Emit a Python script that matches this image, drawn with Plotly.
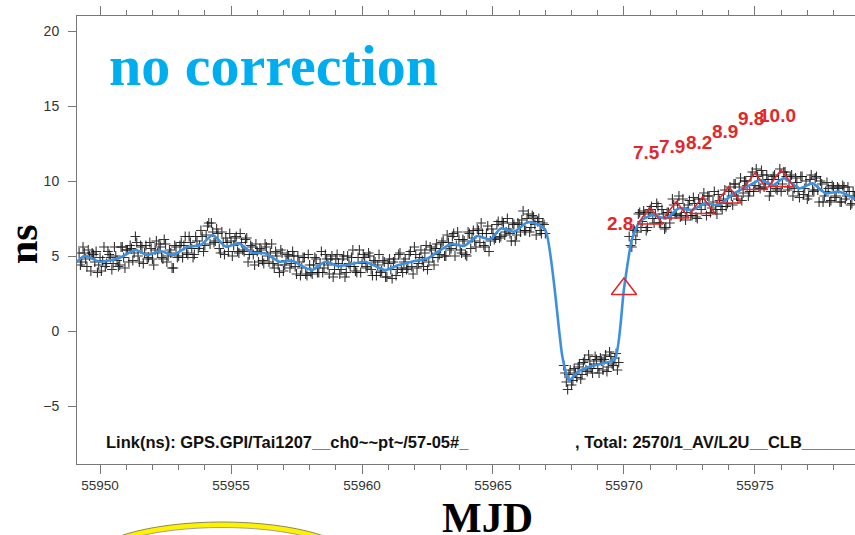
import plotly.graph_objects as go

# ---------------- data ----------------
# smoothed link (blue line): MJD, ns
LINE_T = [55949.12, 55949.4, 55950.0, 55950.7, 55951.35, 55951.8, 55952.3, 55952.8, 55953.3, 55953.85,
          55954.3, 55954.8, 55955.3, 55955.8, 55956.3, 55956.85, 55957.35, 55957.85, 55958.1, 55958.6,
          55959.1, 55959.6, 55960.1, 55960.9, 55961.4, 55961.9, 55962.5, 55962.9, 55963.4, 55963.9,
          55964.4, 55964.9, 55965.3, 55965.8, 55966.3, 55966.6, 55967.0, 55967.65, 55967.9, 55968.25,
          55968.75, 55969.2, 55969.65, 55970.0, 55970.3, 55970.6, 55971.1, 55971.6, 55972.1, 55972.6,
          55973.1, 55973.6, 55974.2, 55974.7, 55975.2, 55975.7, 55976.1, 55976.7, 55977.2, 55977.7,
          55978.2, 55978.82]
LINE_V = [4.62, 5.0, 4.62, 4.84, 5.4, 5.07, 5.33, 5.07, 5.58, 5.73,
          6.4, 5.62, 5.84, 5.22, 5.18, 4.62, 4.67, 4.2, 4.07, 4.62,
          4.33, 4.47, 4.62, 4.07, 4.4, 4.62, 4.84, 5.29, 5.8, 5.67,
          6.33, 6.11, 6.84, 6.62, 7.24, 7.18, 6.73, -1.71, -3.3, -2.7,
          -2.35, -2.15, -1.9, 2.8, 6.07, 7.29, 7.73, 7.51, 8.18, 8.07,
          8.51, 8.4, 9.18, 9.62, 10.07, 9.73, 10.18, 9.51, 9.84, 9.18,
          9.29, 8.8]

# raw measurements (+ markers), sampled every 0.1 day; two interleaved passes per segment
STEP = 0.1
SEG1_START = 55949.2
SEG1_Y = [5.2, 4.6, 5.2, 4.3, 5.0, 5.2, 4.6, 3.9, 4.9, 4.7,
          4.3, 5.3, 4.9, 4.5, 5.0, 4.3, 5.6, 4.9, 5.4, 4.6,
          5.5, 5.2, 5.9, 4.6, 5.6, 5.2, 4.8, 5.9, 4.8, 5.4,
          5.2, 5.6, 4.8, 5.8, 5.0, 5.2, 4.2, 5.6, 5.0, 5.9,
          5.7, 5.2, 6.3, 5.5, 5.1, 6.0, 5.7, 6.3, 5.7, 7.0,
          5.8, 6.6, 6.0, 6.5, 5.2, 5.9, 6.2, 5.3, 6.0, 5.7,
          6.3, 5.2, 5.9, 5.3, 6.2, 5.1, 5.6, 4.4, 5.3, 5.5,
          4.7, 5.8, 5.0, 5.2, 4.5, 5.3, 4.4, 5.4, 4.0, 4.7,
          5.0, 4.5, 5.0, 3.8, 4.6, 4.2, 4.9, 3.7, 4.4, 3.8,
          4.9, 3.9, 4.5, 3.9, 5.1, 4.4, 4.8, 3.6, 4.8, 4.5,
          4.1, 5.0, 3.9, 4.5, 4.9, 4.3, 3.9, 5.4, 4.5, 4.9,
          4.2, 5.0, 3.7, 4.6, 4.4, 3.9, 4.7, 3.6, 4.5, 4.1,
          4.6, 3.7, 5.1, 4.2, 4.6, 4.1, 5.1, 4.3, 5.6, 4.2,
          4.9, 4.7, 5.2, 4.1, 5.6, 4.9, 5.5, 4.9, 5.5, 6.0,
          5.0, 5.9, 5.5, 6.5, 5.7, 6.1, 5.2, 6.0, 5.0, 6.5,
          6.2, 6.0, 6.8, 5.9, 6.5, 5.6, 7.0, 6.0, 6.5, 6.2,
          7.3, 6.3, 7.2, 6.6, 6.8, 6.0, 7.1, 6.4, 7.1, 7.4,
          6.7, 7.5, 6.6, 7.7, 7.1, 7.3, 6.7, 7.2, 6.5]
SEG1B_START = 55949.25
SEG1B_Y = [4.4, 5.6, 4.8, 5.4, 4.0, 5.1, 5.3, 4.4, 4.0, 5.6,
           4.5, 5.1, 4.1, 5.6, 4.7, 4.4, 5.6, 4.2, 5.4, 5.7,
           4.7, 6.3, 5.0, 5.7, 4.5, 5.7, 4.9, 5.5, 4.4, 6.0,
           5.8, 4.9, 6.1, 4.6, 5.4, 4.2, 5.7, 4.9, 5.7, 4.9,
           6.3, 5.1, 5.9, 4.9, 6.3, 5.5, 6.7, 5.3, 6.4, 7.2,
           7.2, 5.9, 6.8, 5.5, 6.6, 5.1, 5.9, 6.5, 5.0, 6.2,
           5.3, 6.5, 5.4, 6.1, 4.6, 5.7, 5.1, 5.8, 4.6, 5.4,
           4.5, 5.6, 4.6, 5.8, 4.2, 5.0, 3.9, 5.2, 4.4, 5.1,
           4.2, 5.3, 4.3, 5.0, 3.7, 4.9, 3.8, 5.1, 3.9, 4.4,
           4.8, 3.9, 5.3, 4.2, 4.8, 3.8, 5.0, 4.1, 5.1, 3.8,
           4.8, 3.6, 5.0, 4.3, 5.4, 4.0, 4.9, 3.9, 5.1, 4.3,
           5.2, 4.1, 4.7, 3.7, 5.1, 4.0, 4.6, 3.6, 4.8, 3.5,
           4.8, 4.1, 5.2, 3.9, 4.8, 4.2, 5.3, 3.8, 5.1, 4.5,
           5.4, 4.3, 5.7, 4.6, 5.4, 4.4, 5.8, 5.1, 5.9, 5.0,
           6.4, 5.4, 6.3, 5.0, 6.6, 5.4, 6.1, 5.1, 6.6, 5.5,
           6.7, 5.6, 6.7, 7.2, 5.7, 6.5, 5.3, 6.8, 6.1, 7.1,
           6.2, 7.3, 6.4, 7.5, 6.5, 7.2, 6.0, 7.2, 6.6, 8.0,
           6.7, 7.8, 6.9, 7.6, 6.4, 7.5, 6.5, 7.1]
SEG2_START = 55967.7
SEG2_Y = [-2.3, -3.4, -2.9, -3.6, -2.5, -3.1, -2.2, -2.9, -1.9, -2.7,
          -2.0, -2.8, -1.7, -2.5, -1.8, -2.6, -1.6, -2.4, -1.7, -2.3,
          -1.5, -2.1]
SEG2B_START = 55967.75
SEG2B_Y = [-2.8, -3.9, -2.6, -3.3, -2.8, -2.4, -3.2, -2.1, -2.6, -1.6,
           -2.5, -2.2, -1.9, -2.8, -2.0, -1.9, -2.7, -1.4, -2.2, -1.8,
           -2.6]
SEG3_START = 55970.2
SEG3_Y = [6.3, 5.6, 6.7, 6.6, 7.9, 7.3, 7.8, 6.9, 8.1, 7.5,
          7.8, 8.3, 7.2, 7.8, 6.9, 7.9, 7.7, 8.4, 7.8, 9.0,
          7.7, 8.2, 7.9, 8.7, 7.7, 8.5, 7.5, 8.5, 8.8, 8.4,
          9.0, 7.9, 8.6, 8.1, 9.1, 8.3, 8.8, 8.3, 9.3, 9.0,
          9.8, 9.0, 9.6, 8.7, 10.0, 9.7, 9.3, 10.6, 9.7, 10.3,
          9.5, 10.4, 9.8, 10.1, 9.3, 10.3, 9.5, 10.1, 9.3, 10.6,
          10.3, 9.6, 10.4, 9.5, 9.9, 8.9, 10.3, 9.5, 8.8, 10.1,
          9.4, 10.2, 9.4, 10.0, 8.6, 9.3, 9.5, 8.7, 9.6, 9.0,
          9.5, 8.6, 9.6, 9.0, 9.3, 8.5, 9.0]
SEG3B_START = 55970.25
SEG3B_Y = [5.7, 6.8, 6.1, 7.8, 6.9, 8.0, 6.7, 7.9, 8.3, 7.2,
           8.5, 7.2, 8.1, 6.8, 7.9, 7.2, 8.8, 7.8, 8.5, 7.6,
           8.8, 7.4, 8.4, 7.7, 8.9, 7.6, 8.8, 8.1, 9.2, 7.7,
           9.0, 8.2, 9.3, 7.8, 8.7, 8.1, 9.4, 8.5, 9.6, 8.4,
           9.8, 8.8, 10.2, 9.2, 10.0, 9.0, 10.3, 9.3, 10.8, 9.6,
           10.7, 9.6, 10.4, 9.0, 10.1, 10.4, 9.4, 10.8, 9.8, 10.6,
           9.4, 10.3, 9.0, 10.2, 9.3, 10.3, 9.1, 10.0, 9.0, 10.4,
           9.3, 10.3, 8.6, 9.8, 9.0, 9.9, 8.6, 9.7, 8.9, 9.6,
           8.6, 9.7, 8.8, 9.6, 8.4, 9.3]

# labelled daily points (red triangles)
TRI_T = [55970, 55971, 55972, 55973, 55974, 55975, 55976]
TRI_V = [2.8, 7.5, 7.9, 8.2, 8.9, 9.8, 10.0]
TRI_LABELS = ["2.8", "7.5", "7.9", "8.2", "8.9", "9.8", "10.0"]

Y_TICKS = [-5, 0, 5, 10, 15, 20]
X_TICKS = [55950, 55955, 55960, 55965, 55970, 55975]

TITLE_TEXT = "no correction"
Y_TITLE = "ns"
X_TITLE = "MJD"
LINK_TEXT = "Link(ns): GPS.GPI/Tai1207__ch0~~pt~/57-05#_"
TOTAL_TEXT = ", Total: 2570/1_AV/L2U__CLB_______"

# ---------------- build ----------------
sx, sy = [], []
for start, ys in [(SEG1_START, SEG1_Y), (SEG1B_START, SEG1B_Y), (SEG2_START, SEG2_Y),
                  (SEG2B_START, SEG2B_Y), (SEG3_START, SEG3_Y), (SEG3B_START, SEG3B_Y)]:
    for i, v in enumerate(ys):
        sx.append(round(start + STEP * i, 3))
        sy.append(v)

W, H = 855, 535
L, R, T, B = 77, 0, 16, 71
pw, ph = W - L - R, H - T - B


def px(xp):
    return (xp - L) / pw


def py(yp):
    return (H - B - yp) / ph


RED = "#E3262A"
fig = go.Figure()
fig.add_trace(go.Scatter(
    x=sx, y=sy, mode="markers",
    marker=dict(symbol="cross-thin", size=7,
                line=dict(width=1.1, color="rgba(15,15,15,0.85)")),
    hoverinfo="skip", showlegend=False))
fig.add_trace(go.Scatter(
    x=LINE_T, y=LINE_V, mode="lines",
    line=dict(color="#3D8FE0", width=2.6, shape="spline", smoothing=0.6),
    showlegend=False))
fig.add_trace(go.Scatter(
    x=TRI_T, y=TRI_V, mode="markers",
    marker=dict(symbol="triangle-up-open", size=22, color=RED,
                line=dict(width=1.5, color=RED)),
    showlegend=False))

annotations = []
for t, v, s in zip(TRI_T, TRI_V, TRI_LABELS):
    annotations.append(dict(x=t, y=v, xref="x", yref="y", text="<b>%s</b>" % s, showarrow=False,
                            xshift=-4, yshift=66,
                            font=dict(family="Liberation Sans, Arial", size=19, color=RED)))

serif = "Liberation Serif, Times New Roman, serif"
sans = "Liberation Sans, Arial"
annotations += [
    dict(x=px(107), y=py(65), xref="paper", yref="paper", text="<b>%s</b>" % TITLE_TEXT,
         xanchor="left", yanchor="middle", showarrow=False,
         font=dict(family=serif, size=58, color="#00AEEF")),
    dict(x=px(23), y=py(244), xref="paper", yref="paper", text="<b>%s</b>" % Y_TITLE,
         textangle=-90, xanchor="center", yanchor="middle", showarrow=False,
         font=dict(family=serif, size=42, color="black")),
    dict(x=px(488), y=py(518), xref="paper", yref="paper", text="<b>%s</b>" % X_TITLE,
         xanchor="center", yanchor="middle", showarrow=False,
         font=dict(family=serif, size=42, color="black")),
    dict(x=px(104), y=py(442), xref="paper", yref="paper", text="<b>%s</b>" % LINK_TEXT,
         xanchor="left", yanchor="middle", showarrow=False,
         font=dict(family=sans, size=16.5, color="#111")),
    dict(x=px(573), y=py(442), xref="paper", yref="paper", text="<b>%s</b>" % TOTAL_TEXT,
         xanchor="left", yanchor="middle", showarrow=False,
         font=dict(family=sans, size=16.5, color="#111")),
]

shapes = [
    dict(type="circle", xref="paper", yref="paper",
         x0=px(88), x1=px(356), y0=py(522), y1=py(602),
         fillcolor="#FFF200", line=dict(color="#8A8A55", width=1), layer="above"),
    dict(type="circle", xref="paper", yref="paper",
         x0=px(96), x1=px(348), y0=py(527.5), y1=py(598),
         fillcolor="white", line=dict(color="#A0A0A0", width=1), layer="above"),
]

fig.update_layout(
    width=W, height=H,
    margin=dict(l=L, r=R, t=T, b=B, pad=0),
    paper_bgcolor="white", plot_bgcolor="white",
    showlegend=False,
    annotations=annotations, shapes=shapes,
    xaxis=dict(range=[55949.12, 55978.82], tickvals=X_TICKS, ticktext=[str(v) for v in X_TICKS],
               ticks="outside", ticklen=9, tickwidth=1, tickcolor="#777",
               minor=dict(dtick=1, tick0=55950, ticks="outside", ticklen=5, tickcolor="#777", showgrid=False),
               showline=True, linecolor="#777", linewidth=1, mirror="ticks",
               showgrid=False, zeroline=False,
               tickfont=dict(family=sans, size=13.5, color="#333")),
    yaxis=dict(range=[(331 - 464) / 15, (331 - 16) / 15], tickvals=Y_TICKS,
               ticks="outside", ticklen=8, tickwidth=1, tickcolor="#777",
               showline=True, linecolor="#777", linewidth=1,
               showgrid=False, zeroline=False, ticklabelstandoff=6,
               tickfont=dict(family=sans, size=14, color="#333")),
)

fig.write_html("out.html", config={"displayModeBar": False},
               post_script="document.body.style.margin='0';document.body.style.overflow='hidden';")
